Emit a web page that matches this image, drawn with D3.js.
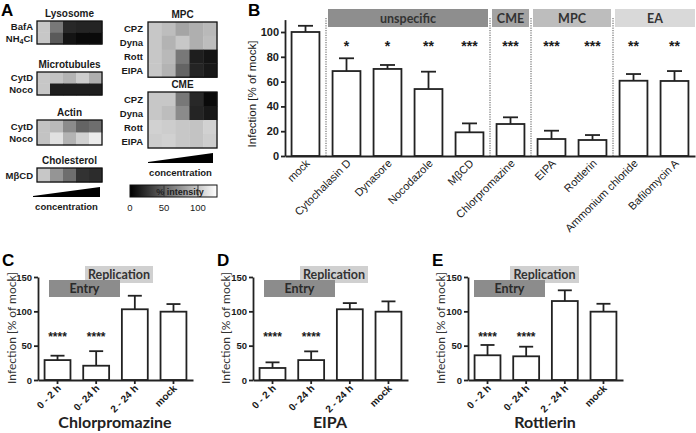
<!doctype html>
<html>
<head>
<meta charset="utf-8">
<style>
  body { margin: 0; background: #fff; }
  text { font-family: "Liberation Sans", Arial, sans-serif; fill: #1a1a1a; }
  .cal { font-family: Lato, "Open Sans", sans-serif; }
</style>
</head>
<body>
<svg width="696" height="433" id="fig"></svg>
<script src="https://cdnjs.cloudflare.com/ajax/libs/d3/7.8.5/d3.min.js"></script>
<script>
// ---- panel A: % intensity, five rising concentrations ----
const steps = [1, 2, 3, 4, 5]
const lysoRows = ['BafA', 'NH4Cl']
const lysoVals = [[100, 60, 20, 18, 18], [100, 45, 10, 5, 5]]
const microRows = ['CytD', 'Noco']
const microVals = [[100, 98, 90, 103, 88], [100, 15, 15, 15, 15]]
const actinRows = ['CytD', 'Noco']
const actinVals = [[98, 93, 70, 50, 55], [98, 113, 90, 105, 118]]
const cholRows = ['MβCD']
const cholVals = [[100, 75, 55, 25, 22]]
const mpcRows = ['CPZ', 'Dyna', 'Rott', 'EIPA']
const mpcVals = [[100, 95, 83, 88, 93], [100, 90, 100, 88, 95], [100, 93, 60, 15, 10], [100, 90, 50, 18, 12]]
const cmeRows = ['CPZ', 'Dyna', 'Rott', 'EIPA']
const cmeVals = [[100, 100, 60, 20, 5], [100, 95, 70, 18, 12], [105, 103, 100, 98, 105], [103, 105, 100, 98, 103]]
const barTicks = [0, 50, 100]

// ---- panel B ----
const bCats = ['mock', 'Cytochalasin D', 'Dynasore', 'Nocodazole', 'MβCD', 'Chlorpromazine', 'EIPA', 'Rottlerin', 'Ammonium chloride', 'Bafilomycin A']
const bVals = [100, 68.5, 70.2, 54, 19.1, 25.8, 13.7, 12.9, 60.7, 60.5]
const bErr = [5, 10.3, 3.2, 14, 7.2, 5.4, 6.7, 4, 5.4, 8]
const bStars = ['', '*', '*', '**', '***', '***', '***', '***', '**', '**']
const bTicks = [0, 20, 40, 60, 80, 100]
const groupNames = ['unspecific', 'CME', 'MPC', 'EA']
const groupFirst = [1, 5, 6, 8]
const groupFill = ['#8e8e8e', '#a3a3a3', '#bdbdbd', '#d9d9d9']

// ---- panels C-E ----
const tCats = ['0 - 2 h', '0- 24 h', '2 - 24 h', 'mock']
const tStars = ['****', '****', '', '']
const tTicks = [0, 50, 100, 150]
const cpzVals = [29, 20.8, 103, 99.5]
const cpzErr = [6.4, 21.2, 19.7, 11.1]
const eipaVals = [17.5, 29, 103, 99.5]
const eipaErr = [8.2, 12.7, 9, 15]
const rottVals = [36, 34.5, 115, 99.5]
const rottErr = [15, 14, 15.6, 11.5]

const svg = d3.select('#fig')
const grey = d3.scaleLinear().domain([0, 128]).range(['#000', '#fff']).clamp(true)

function letter (t, x, y, size) {
  svg.append('text').attr('x', x).attr('y', y).text(t)
    .style('font-size', size + 'px').style('font-weight', 'bold').style('fill', '#000')
}

function rowLabel (sel, name) {
  if (name === 'NH4Cl') {
    sel.append('tspan').text('NH')
    sel.append('tspan').text('4').style('font-size', '7px').attr('dy', 2)
    sel.append('tspan').text('Cl').attr('dy', -2)
  } else {
    sel.text(name)
  }
}

function heatmap (title, rows, vals, x0, y0, w, rowH, labelX) {
  const g = svg.append('g')
  const x = d3.scaleBand().domain(steps).range([x0, x0 + w])
  const y = d3.scaleBand().domain(rows).range([y0, y0 + rowH * rows.length])
  rows.forEach((r, i) => {
    g.selectAll(null).data(vals[i]).join('rect')
      .attr('x', (d, j) => x(steps[j]))
      .attr('y', y(r))
      .attr('width', x.bandwidth() + 0.4)
      .attr('height', y.bandwidth() + 0.4)
      .attr('fill', d => grey(d))
    const t = g.append('text').attr('x', labelX).attr('y', y(r) + y.bandwidth() / 2 + 3.5)
      .attr('text-anchor', 'end').style('font-size', '9.5px').style('font-weight', 'bold')
    rowLabel(t, r)
  })
  g.append('rect').attr('x', x0).attr('y', y0).attr('width', w).attr('height', rowH * rows.length)
    .attr('fill', 'none').attr('stroke', '#111').attr('stroke-width', 1.3)
  g.append('text').attr('x', x0 + w / 2).attr('y', y0 - 4).attr('text-anchor', 'middle')
    .style('font-size', '10px').style('font-weight', 'bold').text(title)
}

function wedge (x0, x1, yb, label) {
  svg.append('path').attr('d', `M${x0},${yb - 1}L${x1},${yb - 10}L${x1},${yb}L${x0},${yb}Z`).attr('fill', '#000')
  svg.append('text').attr('x', (x0 + x1) / 2).attr('y', yb + 13).attr('text-anchor', 'middle')
    .style('font-size', '9.5px').style('font-weight', 'bold').text(label)
}

// ---------- A ----------
letter('A', 1, 16, 17)
heatmap('Lysosome', lysoRows, lysoVals, 37, 21, 65, 11.5, 33)
heatmap('Microtubules', microRows, microVals, 37, 72, 65, 11.5, 33)
heatmap('Actin', actinRows, actinVals, 37, 120, 65, 12.5, 33)
heatmap('Cholesterol', cholRows, cholVals, 37, 168, 65, 14, 33)
wedge(33, 100, 197, 'concentration')
heatmap('MPC', mpcRows, mpcVals, 148, 22, 69, 13.8, 143)
heatmap('CME', cmeRows, cmeVals, 148, 92, 69, 14, 143)
wedge(148, 213, 163, 'concentration')

// colour bar
const cb = d3.scaleLinear().domain([0, 128]).range([130, 217])
const grad = svg.append('defs').append('linearGradient').attr('id', 'cbar')
grad.append('stop').attr('offset', '0%').attr('stop-color', '#000')
grad.append('stop').attr('offset', '100%').attr('stop-color', '#fff')
svg.append('rect').attr('x', cb(0)).attr('y', 185).attr('width', cb(128) - cb(0)).attr('height', 12)
  .attr('fill', 'url(#cbar)').attr('stroke', '#111').attr('stroke-width', 1)
svg.selectAll('.cbt').data(barTicks.slice(1)).join('line')
  .attr('x1', d => cb(d)).attr('x2', d => cb(d)).attr('y1', 185).attr('y2', 197)
  .attr('stroke', '#333').attr('stroke-width', 1)
svg.append('text').attr('x', 180).attr('y', 194.5).attr('text-anchor', 'middle')
  .style('font-size', '9px').style('font-weight', 'bold').style('fill', '#222').text('% intensity')
svg.selectAll('.cbl').data(barTicks).join('text')
  .attr('x', d => cb(d)).attr('y', 211).attr('text-anchor', 'middle')
  .style('font-size', '9.5px').text(d => d)

// ---------- B ----------
letter('B', 248, 16, 17)
const bx = d3.scaleBand().domain(bCats).range([285, 695]).paddingInner(0.32).paddingOuter(0.16)
const by = d3.scaleLinear().domain([0, 110]).range([156, 19.6])
const gB = svg.append('g')

// separators
const sepX = groupFirst.map(i => bx(bCats[i]) - bx.step() * bx.paddingInner() / 2)
gB.selectAll('.sep').data(sepX).join('line')
  .attr('x1', d => d).attr('x2', d => d).attr('y1', 18).attr('y2', by(0))
  .attr('stroke', '#555').attr('stroke-width', 1).attr('stroke-dasharray', '1.2,1.2')

// group headers
groupNames.forEach((n, i) => {
  const left = sepX[i] + 2
  const right = i < groupNames.length - 1 ? sepX[i + 1] - 2 : 695
  gB.append('rect').attr('x', left).attr('y', 9).attr('width', right - left).attr('height', 18).attr('fill', groupFill[i])
  gB.append('text').attr('class', 'cal').attr('x', (left + right) / 2).attr('y', 22.5).attr('text-anchor', 'middle')
    .style('font-size', '12.5px').style('font-weight', 'bold').style('fill', '#333').text(n)
})

function bars (g, x, y, vals, errs, stars, starY, starSize) {
  g.selectAll(null).data(vals).join('rect')
    .attr('x', (d, i) => x(x.domain()[i]))
    .attr('y', d => y(d))
    .attr('width', x.bandwidth())
    .attr('height', d => y(0) - y(d))
    .attr('fill', '#fff').attr('stroke', '#222').attr('stroke-width', 1.8)
  const cx = i => x(x.domain()[i]) + x.bandwidth() / 2
  g.selectAll(null).data(vals).join('line')
    .attr('x1', (d, i) => cx(i)).attr('x2', (d, i) => cx(i))
    .attr('y1', d => y(d)).attr('y2', (d, i) => y(d + errs[i]))
    .attr('stroke', '#222').attr('stroke-width', 1.8)
  g.selectAll(null).data(vals).join('line')
    .attr('x1', (d, i) => cx(i) - x.bandwidth() * 0.27).attr('x2', (d, i) => cx(i) + x.bandwidth() * 0.27)
    .attr('y1', (d, i) => y(d + errs[i])).attr('y2', (d, i) => y(d + errs[i]))
    .attr('stroke', '#222').attr('stroke-width', 1.8)
  g.selectAll(null).data(stars).join('text')
    .attr('x', (d, i) => cx(i)).attr('y', starY).attr('text-anchor', 'middle')
    .style('font-size', starSize + 'px').style('font-weight', 'bold').text(d => d)
}

bars(gB, bx, by, bVals, bErr, bStars, by(85), 14)

function yAxis (g, y, x0, ticks, size) {
  const a = g.append('g').attr('transform', `translate(${x0},0)`)
    .call(d3.axisLeft(y).tickValues(ticks).tickSize(4).tickSizeOuter(0).tickPadding(2))
  a.select('.domain').attr('stroke', '#222').attr('stroke-width', 1.8)
  a.selectAll('.tick line').attr('stroke', '#222').attr('stroke-width', 1.8)
  a.selectAll('text').style('font-size', size + 'px').style('font-weight', 'bold')
    .style('font-family', '"Liberation Sans", Arial, sans-serif').attr('fill', '#1a1a1a')
}

function xAxis (g, x, y0, tick, size, dx, dy, weight) {
  const a = g.append('g').attr('transform', `translate(0,${y0})`)
    .call(d3.axisBottom(x).tickSize(tick).tickSizeOuter(0))
  a.select('.domain').attr('stroke', '#222').attr('stroke-width', 1.8)
  a.selectAll('.tick line').attr('stroke', '#222').attr('stroke-width', 1.8)
  a.selectAll('text').attr('x', 0).attr('y', 0).attr('dy', 0)
    .attr('transform', `translate(${dx},${dy}) rotate(-45)`)
    .style('text-anchor', 'end').style('font-size', size + 'px').style('font-weight', weight)
    .style('font-family', '"Liberation Sans", Arial, sans-serif').attr('fill', '#1a1a1a')
}

yAxis(gB, by, 285, bTicks, 11)
xAxis(gB, bx, by(0), 0, 11, 5, 8, 'normal')
gB.append('text').attr('transform', `translate(256,${(by(0) + by(100)) / 2}) rotate(-90)`)
  .attr('text-anchor', 'middle').style('font-size', '11.5px').text('Infection [% of mock]')

// ---------- C, D, E ----------
function timePanel (opt) {
  const g = svg.append('g')
  const x = d3.scaleBand().domain(tCats).range([opt.x0, opt.x0 + 155]).paddingInner(0.33).paddingOuter(0.17)
  const y = d3.scaleLinear().domain([0, 150]).range([380, 277])
  letter(opt.letter, opt.letterX, 266, 17)
  g.append('rect').attr('x', opt.x0 + opt.rep[0]).attr('y', 266).attr('width', opt.rep[1] - opt.rep[0]).attr('height', 17).attr('fill', '#d0d0d0')
  g.append('text').attr('class', 'cal').attr('x', opt.x0 + (opt.rep[0] + opt.rep[1]) / 2).attr('y', 279)
    .attr('text-anchor', 'middle').style('font-size', '12.5px').style('font-weight', 'bold').style('fill', '#333').text('Replication')
  g.append('rect').attr('x', opt.x0 + opt.entry[0]).attr('y', 280).attr('width', opt.entry[1] - opt.entry[0]).attr('height', 17).attr('fill', '#8c8c8c')
  g.append('text').attr('class', 'cal').attr('x', opt.x0 + (opt.entry[0] + opt.entry[1]) / 2).attr('y', 293)
    .attr('text-anchor', 'middle').style('font-size', '12.5px').style('font-weight', 'bold').style('fill', '#2a2a2a').text('Entry')
  bars(g, x, y, opt.vals, opt.errs, tStars, 341, 12)
  yAxis(g, y, opt.x0, tTicks, 9.5)
  xAxis(g, x, 380, 4, 10, 4, 9, 'bold')
  g.append('text').attr('class', 'cal').attr('transform', `translate(${opt.labelX},328) rotate(-90)`)
    .attr('text-anchor', 'middle').style('font-size', '12px').style('fill', '#333').text('Infection [% of mock]')
  g.append('text').attr('class', 'cal').attr('x', opt.x0 + 77).attr('y', 428).attr('text-anchor', 'middle')
    .style('font-size', '16px').style('font-weight', 'bold').style('fill', '#222').text(opt.title)
}

timePanel({ letter: 'C', letterX: 2, x0: 38, labelX: 16, vals: cpzVals, errs: cpzErr, title: 'Chlorpromazine', entry: [11, 82], rep: [47, 115] })
timePanel({ letter: 'D', letterX: 217, x0: 253, labelX: 230, vals: eipaVals, errs: eipaErr, title: 'EIPA', entry: [11, 82], rep: [47, 115] })
timePanel({ letter: 'E', letterX: 432, x0: 468, labelX: 445, vals: rottVals, errs: rottErr, title: 'Rottlerin', entry: [6, 77], rep: [42, 111] })
</script>
</body>
</html>
